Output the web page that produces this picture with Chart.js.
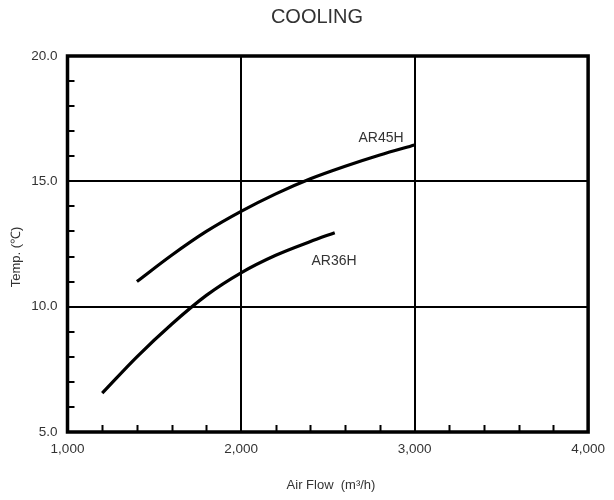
<!DOCTYPE html>
<html>
<head>
<meta charset="utf-8">
<script src="https://cdn.jsdelivr.net/npm/chart.js@4.4.1/dist/chart.umd.min.js"></script>
<style>
  html, body { margin: 0; padding: 0; background: #fff; }
  #wrap { width: 614px; height: 500px; }
</style>
</head>
<body>
<div id="wrap"><canvas id="chart" width="614" height="500"></canvas></div>
<script>
// values
const airflow45 = [1400, 1600, 1800, 2000, 2200, 2400, 2600, 2800, 3000];
const temp45 = [11.0, 12.05, 13.0, 13.8, 14.5, 15.1, 15.6, 16.05, 16.45];
const airflow36 = [1200, 1400, 1600, 1800, 2000, 2200, 2400, 2540];
const temp36 = [6.55, 8.0, 9.3, 10.45, 11.35, 12.05, 12.6, 12.95];
const seriesNames = ['AR45H', 'AR36H'];
const xMajor = [2000, 3000];
const yMajor = [10, 15];

const FONT = '"Liberation Sans", Arial, sans-serif';
const TEXT = '#333';

function pts(xs, ys) {
  return xs.map((x, i) => ({ x: x, y: ys[i] }));
}

// frame, inward minor ticks and text
const decor = {
  id: 'decor',
  afterDraw(chart) {
    const { ctx, chartArea: a, scales } = chart;
    const xs = scales.x, ys = scales.y;
    ctx.save();
    ctx.strokeStyle = '#000';
    ctx.lineWidth = 2;
    for (let v = 1200; v < 4000; v += 200) {
      if (v % 1000 === 0) continue;
      const px = Math.round(xs.getPixelForValue(v)) + 0.5;
      ctx.beginPath();
      ctx.moveTo(px, a.bottom);
      ctx.lineTo(px, a.bottom - 7);
      ctx.stroke();
    }
    for (let v = 6; v < 20; v += 1) {
      if (v % 5 === 0) continue;
      const py = Math.round(ys.getPixelForValue(v));
      ctx.beginPath();
      ctx.moveTo(a.left, py);
      ctx.lineTo(a.left + 7, py);
      ctx.stroke();
    }
    ctx.lineWidth = 3.5;
    ctx.strokeRect(a.left, a.top, a.right - a.left, a.bottom - a.top);

    ctx.fillStyle = TEXT;
    ctx.textAlign = 'center';
    ctx.textBaseline = 'middle';
    ctx.font = '20px ' + FONT;
    ctx.fillText('COOLING', 317, 17);
    ctx.font = '13px ' + FONT;
    ctx.fillText('Air Flow  (m³/h)', 331, 485);
    ctx.font = '14px ' + FONT;
    ctx.fillText(seriesNames[0], 381, 138);
    ctx.fillText(seriesNames[1], 334, 261);
    ctx.save();
    ctx.translate(16, 257);
    ctx.rotate(-Math.PI / 2);
    ctx.font = '13px ' + FONT;
    ctx.fillText('Temp. (℃)', 0, 0);
    ctx.restore();
    ctx.restore();
  }
};

new Chart(document.getElementById('chart'), {
  type: 'line',
  data: {
    datasets: [
      {
        label: seriesNames[0],
        data: pts(airflow45, temp45),
        borderColor: '#000',
        borderWidth: 3.2,
        pointRadius: 0,
        cubicInterpolationMode: 'monotone',
        fill: false
      },
      {
        label: seriesNames[1],
        data: pts(airflow36, temp36),
        borderColor: '#000',
        borderWidth: 3.2,
        pointRadius: 0,
        cubicInterpolationMode: 'monotone',
        fill: false
      }
    ]
  },
  options: {
    responsive: false,
    animation: false,
    layout: { padding: { top: 56, right: 22.5, bottom: 0, left: 0 } },
    plugins: {
      legend: { display: false },
      title: { display: false },
      tooltip: { enabled: false }
    },
    scales: {
      x: {
        type: 'linear',
        min: 1000,
        max: 4000,
        afterFit(s) { s.height = 68; },
        border: { display: false },
        grid: {
          drawTicks: false,
          lineWidth: 2,
          color: c => xMajor.includes(c.tick.value) ? '#000' : 'rgba(0,0,0,0)'
        },
        ticks: {
          stepSize: 1000,
          padding: 9,
          color: TEXT,
          font: { family: FONT, size: 13.5 },
          maxRotation: 0,
          callback: v => v.toLocaleString('en-US')
        }
      },
      y: {
        min: 5,
        max: 20,
        afterFit(s) { s.width = 67.5; },
        border: { display: false },
        grid: {
          drawTicks: false,
          lineWidth: 2,
          color: c => yMajor.includes(c.tick.value) ? '#000' : 'rgba(0,0,0,0)'
        },
        ticks: {
          stepSize: 5,
          padding: 10,
          color: TEXT,
          font: { family: FONT, size: 13.5 },
          callback: v => v.toFixed(1)
        }
      }
    }
  },
  plugins: [decor]
});
</script>
</body>
</html>
